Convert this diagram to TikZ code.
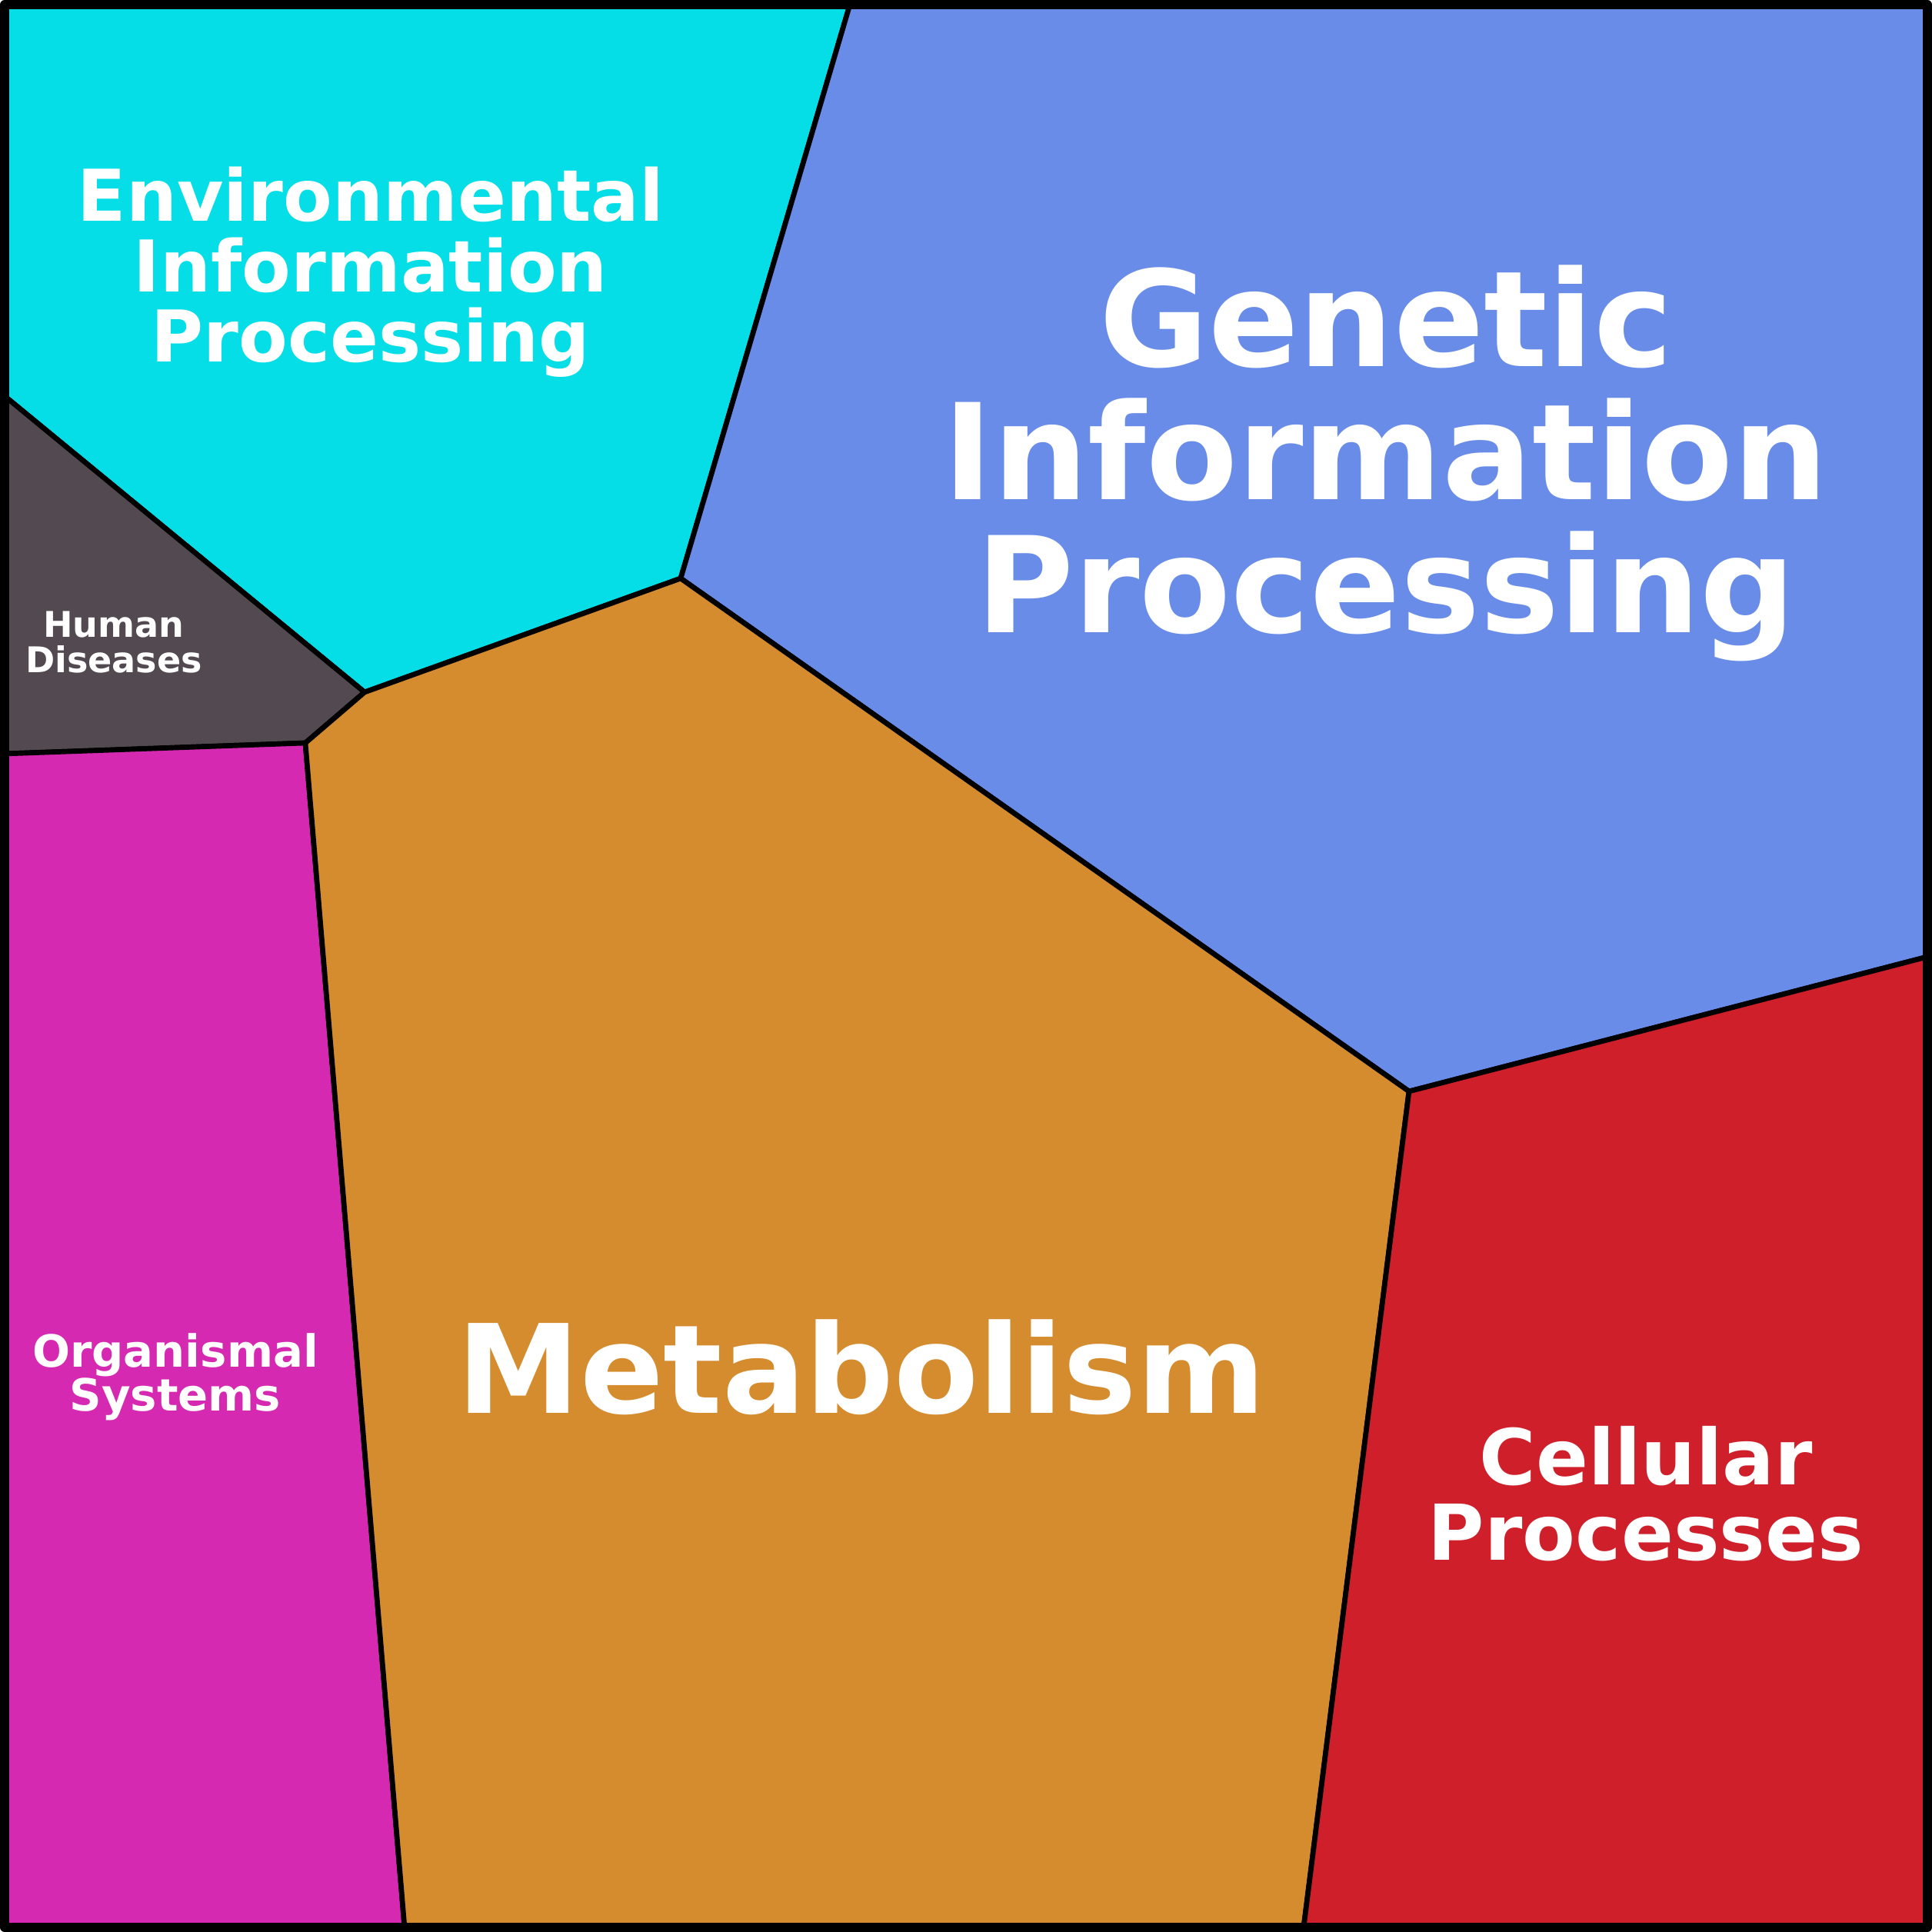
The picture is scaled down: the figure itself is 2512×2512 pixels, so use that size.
\documentclass[tikz,border=0pt]{standalone}
\usepackage{fontspec}
\setmainfont{DejaVu Sans}
\definecolor{envcol}{HTML}{05DEE6}
\definecolor{gencol}{HTML}{688CE8}
\definecolor{humcol}{HTML}{524A50}
\definecolor{orgcol}{HTML}{D629B2}
\definecolor{metcol}{HTML}{D48C2E}
\definecolor{celcol}{HTML}{CE1F2A}
\begin{document}
\begin{tikzpicture}[x=0.01cm,y=-0.01cm,
    region/.style={draw=black,line width=1.9pt,line join=round},
    label/.style={text=white,font=\bfseries,align=center,inner sep=0pt}]
    \useasboundingbox (0,0) rectangle (2512,2512);
    \coordinate (tl) at (6,6);
    \coordinate (tr) at (2506,6);
    \coordinate (br) at (2506,2506);
    \coordinate (bl) at (6,2506);
    \coordinate (eg) at (1105,6);
    \coordinate (egm) at (885,752);
    \coordinate (ehm) at (474,900);
    \coordinate (eh) at (6,515);
    \coordinate (hom) at (397,966);
    \coordinate (ho) at (6,980);
    \coordinate (om) at (526,2506);
    \coordinate (gmc) at (1832,1419);
    \coordinate (gc) at (2506,1244);
    \coordinate (mc) at (1695,2506);
    \path[region,fill=envcol] (tl) -- (eg) -- (egm) -- (ehm) -- (eh) -- cycle;
    \path[region,fill=gencol] (eg) -- (tr) -- (gc) -- (gmc) -- (egm) -- cycle;
    \path[region,fill=humcol] (eh) -- (ehm) -- (hom) -- (ho) -- cycle;
    \path[region,fill=orgcol] (ho) -- (hom) -- (om) -- (bl) -- cycle;
    \path[region,fill=metcol] (ehm) -- (egm) -- (gmc) -- (mc) -- (om) -- (hom) -- cycle;
    \path[region,fill=celcol] (gmc) -- (gc) -- (br) -- (mc) -- cycle;
    \draw[line width=3.4pt,line join=round] (tl) rectangle (br);
    \node[label,font=\bfseries\fontsize{26.4}{26}\selectfont] (env) at (482,354) {Environmental\\Information\\Processing};
    \node[label,font=\bfseries\fontsize{49.3}{49.2}\selectfont] (gen) at (1802,602) {Genetic\\Information\\Processing};
    \node[label,font=\bfseries\fontsize{13.1}{13.3}\selectfont] (hum) at (148,835) {Human\\Diseases};
    \node[label,font=\bfseries\fontsize{16.4}{16.3}\selectfont] (org) at (228,1790) {Organismal\\Systems};
    \node[label,font=\bfseries\fontsize{45.6}{45.6}\selectfont] (met) at (1120,1778) {Metabolism};
    \node[label,font=\bfseries\fontsize{28.5}{27.9}\selectfont] (cel) at (2140,1942) {Cellular\\Processes};
\end{tikzpicture}
\end{document}
